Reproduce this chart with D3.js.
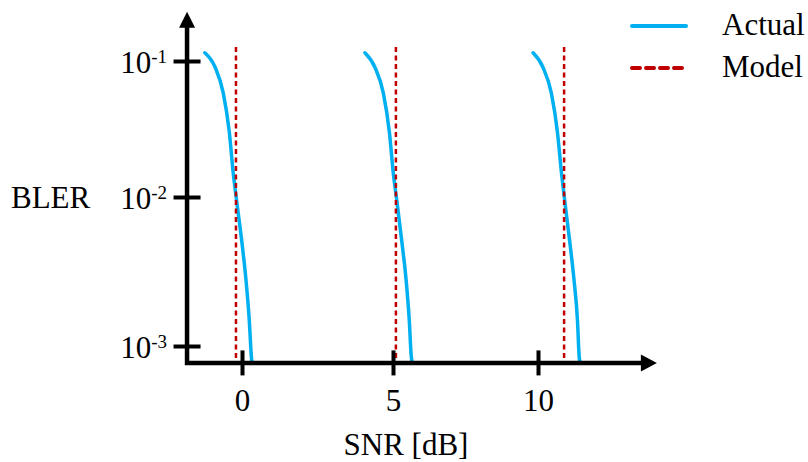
<!DOCTYPE html>
<html>
<head>
<meta charset="utf-8">
<script src="https://cdn.jsdelivr.net/npm/d3@7"></script>
<style>
  body { margin: 0; background: #fff; }
  svg { display: block; }
</style>
</head>
<body>
<svg id="chart"></svg>
<script>
// tick values
const snrTicks = [0, 5, 10];
const blerTicks = [1e-1, 1e-2, 1e-3];
const blerTickLabels = ["-1", "-2", "-3"];

// axis extents (data units)
const snrExtent = [-1.82, 14.1];
const blerExtent = [7.7e-4, 0.23];

// "Actual" curves, one SNR array per curve
const actualBler = [0.115, 0.09, 0.058, 0.03, 0.015, 0.0095, 0.0051, 0.0028, 0.0015, 0.00085, 0.00077];
const actualSnrA = [-1.23, -0.89, -0.62, -0.42, -0.29, -0.18, -0.01, 0.13, 0.24, 0.31, 0.33];
const actualSnrB = [4.07, 4.40, 4.68, 4.88, 5.01, 5.13, 5.30, 5.45, 5.56, 5.63, 5.66];
const actualSnrC = [9.83, 10.17, 10.46, 10.67, 10.81, 10.92, 11.09, 11.24, 11.36, 11.42, 11.45];

// "Model" thresholds (vertical dashed lines)
const modelSnr = [-0.2, 5.1, 10.9];
const modelBler = [0.127, 7.7e-4];

const width = 808, height = 462;
const blue = "#00b0f0", red = "#c00000";
const fontSize = 31;
const serif = '"Liberation Serif", "Times New Roman", serif';

const svg = d3.select("#chart")
  .attr("width", width)
  .attr("height", height)
  .attr("font-family", serif);

const x = d3.scaleLinear().domain([0, 5, 10]).range([242, 393, 538]);
const y = d3.scaleLog().domain(blerTicks).range([61, 197, 346]);

const x0 = x(snrExtent[0]), x1 = x(snrExtent[1]);
const y0 = y(blerExtent[0]), y1 = y(blerExtent[1]);

// curves
const line = d3.line()
  .x((d) => x(d[0]))
  .y((d) => y(d[1]))
  .curve(d3.curveMonotoneX);

[actualSnrA, actualSnrB, actualSnrC].forEach((snr) => {
  svg.append("path")
    .datum(snr.map((s, i) => [s, actualBler[i]]))
    .attr("d", line)
    .attr("fill", "none")
    .attr("stroke", blue)
    .attr("stroke-width", 3.5)
    .attr("stroke-linecap", "round");
});

svg.selectAll(".model")
  .data(modelSnr)
  .join("line")
  .attr("class", "model")
  .attr("x1", (d) => x(d))
  .attr("x2", (d) => x(d))
  .attr("y1", y(modelBler[0]))
  .attr("y2", y(modelBler[1]))
  .attr("stroke", red)
  .attr("stroke-width", 2.5)
  .attr("stroke-dasharray", "5,3.5");

// axes
const xAxis = svg.append("g")
  .attr("transform", `translate(0,${y0})`)
  .call(d3.axisBottom(x).tickValues(snrTicks).tickSizeOuter(0).tickFormat(d3.format("d")));
xAxis.attr("font-family", serif).attr("font-size", fontSize);
xAxis.select(".domain").remove();
xAxis.selectAll(".tick line")
  .attr("y1", -12.5).attr("y2", 12.5)
  .attr("stroke", "#000").attr("stroke-width", 4);
xAxis.selectAll(".tick text")
  .attr("y", 48).attr("dy", null)
  .attr("font-family", serif)
  .attr("fill", "#000");

const yAxis = svg.append("g")
  .attr("transform", `translate(${x0},0)`)
  .call(d3.axisLeft(y).tickValues(blerTicks).tickSizeOuter(0).tickFormat(() => ""));
yAxis.attr("font-family", serif).attr("font-size", fontSize);
yAxis.select(".domain").remove();
yAxis.selectAll(".tick line")
  .attr("x1", -13.5).attr("x2", 13.5)
  .attr("stroke", "#000").attr("stroke-width", 4);
yAxis.selectAll(".tick text")
  .attr("x", -20).attr("dy", 11)
  .attr("font-family", serif)
  .attr("fill", "#000")
  .each(function (d, i) {
    const t = d3.select(this);
    t.append("tspan").text("10");
    t.append("tspan").attr("dy", -10).attr("font-size", 19).text(blerTickLabels[i]);
  });

// axis lines with arrows
svg.append("path")
  .attr("d", `M${x0},${y1 + 14}V${y0}H${x1 - 14}`)
  .attr("fill", "none")
  .attr("stroke", "#000")
  .attr("stroke-width", 4.5)
  .attr("stroke-linejoin", "miter");
svg.append("path")
  .attr("d", `M${x0},${y1}L${x0 - 8},${y1 + 16}L${x0 + 8},${y1 + 16}Z`)
  .attr("fill", "#000");
svg.append("path")
  .attr("d", `M${x1},${y0}L${x1 - 16},${y0 - 8.5}L${x1 - 16},${y0 + 8.5}Z`)
  .attr("fill", "#000");

// axis titles
svg.append("text")
  .attr("x", 11).attr("y", 208)
  .attr("font-size", fontSize)
  .text("BLER");
svg.append("text")
  .attr("x", 406).attr("y", 455)
  .attr("text-anchor", "middle")
  .attr("font-size", fontSize)
  .text("SNR [dB]");

// legend
const legend = [
  { label: "Actual", color: blue, dash: null, y: 26 },
  { label: "Model", color: red, dash: "8,6", y: 68 }
];
const lg = svg.append("g").selectAll("g").data(legend).join("g");
lg.append("line")
  .attr("x1", 632).attr("x2", 686)
  .attr("y1", (d) => d.y).attr("y2", (d) => d.y)
  .attr("stroke", (d) => d.color)
  .attr("stroke-width", 4)
  .attr("stroke-linecap", "round")
  .attr("stroke-dasharray", (d) => d.dash);
lg.append("text")
  .attr("x", 722).attr("y", (d) => d.y + 9)
  .attr("font-size", fontSize)
  .text((d) => d.label);
</script>
</body>
</html>
